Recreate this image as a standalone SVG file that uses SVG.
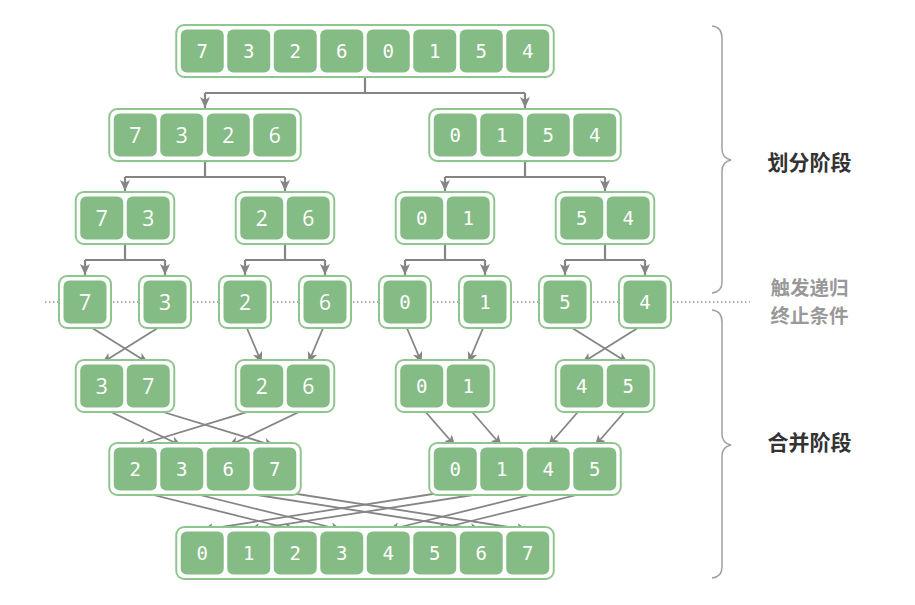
<svg xmlns="http://www.w3.org/2000/svg" width="915" height="605" viewBox="0 0 915 605">
<style>
.box{fill:#fff;stroke:#8ec78e;stroke-width:2}
.c{fill:#85bb85}
.m{font-family:"DejaVu Sans Mono","Liberation Mono",monospace;font-size:19px;fill:#fff;text-anchor:middle;dominant-baseline:central}
.s{font-family:"Open Sans","Liberation Sans",sans-serif;font-size:21px;fill:#fff;text-anchor:middle;dominant-baseline:central}
.ln{fill:none;stroke:#858585;stroke-width:2.2}
.mg{fill:none;stroke:#858585;stroke-width:1.8}
.br{fill:none;stroke:#a0a0a0;stroke-width:1.5}
.lb{font-family:"Noto Sans CJK SC","Noto Sans",sans-serif;font-size:21px;font-weight:bold;text-anchor:middle;dominant-baseline:central}
.gl{font-family:"Noto Sans CJK SC","Noto Sans",sans-serif;font-size:19.5px;font-weight:bold;text-anchor:middle;dominant-baseline:central;fill:#999}
</style>
<defs>
<marker id="ah" markerUnits="userSpaceOnUse" markerWidth="13" markerHeight="11" refX="11" refY="5" orient="auto">
<path d="M0,0 L11,5 L0,10 L2.8,5 z" fill="#858585"/>
</marker>
</defs>
<line x1="45" y1="302" x2="750" y2="302" stroke="#9a9a9a" stroke-width="1.5" stroke-dasharray="1.5 2.5"/>
<g id="connectors">
<path class="ln" d="M365,77 V93 M205,93 H525"/>
<path class="ln" d="M205,93 V108" marker-end="url(#ah)"/>
<path class="ln" d="M525,93 V108" marker-end="url(#ah)"/>
<path class="ln" d="M205,161 V177 M125,177 H285 M525,161 V177 M445,177 H605"/>
<path class="ln" d="M125,177 V191" marker-end="url(#ah)"/>
<path class="ln" d="M285,177 V191" marker-end="url(#ah)"/>
<path class="ln" d="M445,177 V191" marker-end="url(#ah)"/>
<path class="ln" d="M605,177 V191" marker-end="url(#ah)"/>
<path class="ln" d="M125,244 V260 M85,260 H165 M285,244 V260 M245,260 H325 M445,244 V260 M405,260 H485 M605,244 V260 M565,260 H645"/>
<path class="ln" d="M85,260 V275" marker-end="url(#ah)"/>
<path class="ln" d="M165,260 V275" marker-end="url(#ah)"/>
<path class="ln" d="M245,260 V275" marker-end="url(#ah)"/>
<path class="ln" d="M325,260 V275" marker-end="url(#ah)"/>
<path class="ln" d="M405,260 V275" marker-end="url(#ah)"/>
<path class="ln" d="M485,260 V275" marker-end="url(#ah)"/>
<path class="ln" d="M565,260 V275" marker-end="url(#ah)"/>
<path class="ln" d="M645,260 V275" marker-end="url(#ah)"/>
<line class="mg" x1="85" y1="323.5" x2="148.25" y2="363" marker-end="url(#ah)"/>
<line class="mg" x1="165" y1="323.5" x2="101.75" y2="363" marker-end="url(#ah)"/>
<line class="mg" x1="245" y1="323.5" x2="261.75" y2="363" marker-end="url(#ah)"/>
<line class="mg" x1="325" y1="323.5" x2="308.25" y2="363" marker-end="url(#ah)"/>
<line class="mg" x1="405" y1="323.5" x2="421.75" y2="363" marker-end="url(#ah)"/>
<line class="mg" x1="485" y1="323.5" x2="468.25" y2="363" marker-end="url(#ah)"/>
<line class="mg" x1="565" y1="323.5" x2="628.25" y2="363" marker-end="url(#ah)"/>
<line class="mg" x1="645" y1="323.5" x2="581.75" y2="363" marker-end="url(#ah)"/>
<line class="mg" x1="101.75" y1="407.5" x2="181.75" y2="446" marker-end="url(#ah)"/>
<line class="mg" x1="148.25" y1="407.5" x2="274.75" y2="446" marker-end="url(#ah)"/>
<line class="mg" x1="261.75" y1="407.5" x2="135.25" y2="446" marker-end="url(#ah)"/>
<line class="mg" x1="308.25" y1="407.5" x2="228.25" y2="446" marker-end="url(#ah)"/>
<line class="mg" x1="421.75" y1="407.5" x2="455.25" y2="446" marker-end="url(#ah)"/>
<line class="mg" x1="468.25" y1="407.5" x2="501.75" y2="446" marker-end="url(#ah)"/>
<line class="mg" x1="581.75" y1="407.5" x2="548.25" y2="446" marker-end="url(#ah)"/>
<line class="mg" x1="628.25" y1="407.5" x2="594.75" y2="446" marker-end="url(#ah)"/>
<line class="mg" x1="135.25" y1="490.5" x2="295.25" y2="530" marker-end="url(#ah)"/>
<line class="mg" x1="181.75" y1="490.5" x2="341.75" y2="530" marker-end="url(#ah)"/>
<line class="mg" x1="228.25" y1="490.5" x2="481.25" y2="530" marker-end="url(#ah)"/>
<line class="mg" x1="274.75" y1="490.5" x2="527.75" y2="530" marker-end="url(#ah)"/>
<line class="mg" x1="455.25" y1="490.5" x2="202.25" y2="530" marker-end="url(#ah)"/>
<line class="mg" x1="501.75" y1="490.5" x2="248.75" y2="530" marker-end="url(#ah)"/>
<line class="mg" x1="548.25" y1="490.5" x2="388.25" y2="530" marker-end="url(#ah)"/>
<line class="mg" x1="594.75" y1="490.5" x2="434.75" y2="530" marker-end="url(#ah)"/>
</g>
<g id="n-top">
<rect class="box" x="176.25" y="25" width="377.5" height="52" rx="8"/>
<rect class="c" x="180.75" y="29.5" width="43" height="43" rx="6"/><text class="m" x="202.25" y="51">7</text>
<rect class="c" x="227.25" y="29.5" width="43" height="43" rx="6"/><text class="m" x="248.75" y="51">3</text>
<rect class="c" x="273.75" y="29.5" width="43" height="43" rx="6"/><text class="m" x="295.25" y="51">2</text>
<rect class="c" x="320.25" y="29.5" width="43" height="43" rx="6"/><text class="m" x="341.75" y="51">6</text>
<rect class="c" x="366.75" y="29.5" width="43" height="43" rx="6"/><text class="m" x="388.25" y="51">0</text>
<rect class="c" x="413.25" y="29.5" width="43" height="43" rx="6"/><text class="m" x="434.75" y="51">1</text>
<rect class="c" x="459.75" y="29.5" width="43" height="43" rx="6"/><text class="m" x="481.25" y="51">5</text>
<rect class="c" x="506.25" y="29.5" width="43" height="43" rx="6"/><text class="m" x="527.75" y="51">4</text>
</g>
<g id="n-7326">
<rect class="box" x="109.25" y="109" width="191.5" height="52" rx="8"/>
<rect class="c" x="113.75" y="113.5" width="43" height="43" rx="6"/><text class="s" x="135.25" y="135">7</text>
<rect class="c" x="160.25" y="113.5" width="43" height="43" rx="6"/><text class="s" x="181.75" y="135">3</text>
<rect class="c" x="206.75" y="113.5" width="43" height="43" rx="6"/><text class="s" x="228.25" y="135">2</text>
<rect class="c" x="253.25" y="113.5" width="43" height="43" rx="6"/><text class="s" x="274.75" y="135">6</text>
</g>
<g id="n-0154">
<rect class="box" x="429.25" y="109" width="191.5" height="52" rx="8"/>
<rect class="c" x="433.75" y="113.5" width="43" height="43" rx="6"/><text class="m" x="455.25" y="135">0</text>
<rect class="c" x="480.25" y="113.5" width="43" height="43" rx="6"/><text class="m" x="501.75" y="135">1</text>
<rect class="c" x="526.75" y="113.5" width="43" height="43" rx="6"/><text class="m" x="548.25" y="135">5</text>
<rect class="c" x="573.25" y="113.5" width="43" height="43" rx="6"/><text class="m" x="594.75" y="135">4</text>
</g>
<g id="n-73">
<rect class="box" x="75.75" y="192" width="98.5" height="52" rx="8"/>
<rect class="c" x="80.25" y="196.5" width="43" height="43" rx="6"/><text class="s" x="101.75" y="218">7</text>
<rect class="c" x="126.75" y="196.5" width="43" height="43" rx="6"/><text class="s" x="148.25" y="218">3</text>
</g>
<g id="n-26">
<rect class="box" x="235.75" y="192" width="98.5" height="52" rx="8"/>
<rect class="c" x="240.25" y="196.5" width="43" height="43" rx="6"/><text class="s" x="261.75" y="218">2</text>
<rect class="c" x="286.75" y="196.5" width="43" height="43" rx="6"/><text class="s" x="308.25" y="218">6</text>
</g>
<g id="n-01">
<rect class="box" x="395.75" y="192" width="98.5" height="52" rx="8"/>
<rect class="c" x="400.25" y="196.5" width="43" height="43" rx="6"/><text class="m" x="421.75" y="218">0</text>
<rect class="c" x="446.75" y="196.5" width="43" height="43" rx="6"/><text class="m" x="468.25" y="218">1</text>
</g>
<g id="n-54">
<rect class="box" x="555.75" y="192" width="98.5" height="52" rx="8"/>
<rect class="c" x="560.25" y="196.5" width="43" height="43" rx="6"/><text class="m" x="581.75" y="218">5</text>
<rect class="c" x="606.75" y="196.5" width="43" height="43" rx="6"/><text class="m" x="628.25" y="218">4</text>
</g>
<g id="leaf-7"><rect class="box" x="59" y="276" width="52" height="52" rx="8"/><rect class="c" x="63.5" y="280.5" width="43" height="43" rx="6"/><text class="s" x="85" y="302">7</text></g>
<g id="leaf-3"><rect class="box" x="139" y="276" width="52" height="52" rx="8"/><rect class="c" x="143.5" y="280.5" width="43" height="43" rx="6"/><text class="s" x="165" y="302">3</text></g>
<g id="leaf-2"><rect class="box" x="219" y="276" width="52" height="52" rx="8"/><rect class="c" x="223.5" y="280.5" width="43" height="43" rx="6"/><text class="s" x="245" y="302">2</text></g>
<g id="leaf-6"><rect class="box" x="299" y="276" width="52" height="52" rx="8"/><rect class="c" x="303.5" y="280.5" width="43" height="43" rx="6"/><text class="s" x="325" y="302">6</text></g>
<g id="leaf-0"><rect class="box" x="379" y="276" width="52" height="52" rx="8"/><rect class="c" x="383.5" y="280.5" width="43" height="43" rx="6"/><text class="m" x="405" y="302">0</text></g>
<g id="leaf-1"><rect class="box" x="459" y="276" width="52" height="52" rx="8"/><rect class="c" x="463.5" y="280.5" width="43" height="43" rx="6"/><text class="m" x="485" y="302">1</text></g>
<g id="leaf-5"><rect class="box" x="539" y="276" width="52" height="52" rx="8"/><rect class="c" x="543.5" y="280.5" width="43" height="43" rx="6"/><text class="m" x="565" y="302">5</text></g>
<g id="leaf-4"><rect class="box" x="619" y="276" width="52" height="52" rx="8"/><rect class="c" x="623.5" y="280.5" width="43" height="43" rx="6"/><text class="m" x="645" y="302">4</text></g>
<g id="n-37">
<rect class="box" x="75.75" y="360" width="98.5" height="52" rx="8"/>
<rect class="c" x="80.25" y="364.5" width="43" height="43" rx="6"/><text class="s" x="101.75" y="386">3</text>
<rect class="c" x="126.75" y="364.5" width="43" height="43" rx="6"/><text class="s" x="148.25" y="386">7</text>
</g>
<g id="n-26m">
<rect class="box" x="235.75" y="360" width="98.5" height="52" rx="8"/>
<rect class="c" x="240.25" y="364.5" width="43" height="43" rx="6"/><text class="s" x="261.75" y="386">2</text>
<rect class="c" x="286.75" y="364.5" width="43" height="43" rx="6"/><text class="s" x="308.25" y="386">6</text>
</g>
<g id="n-01m">
<rect class="box" x="395.75" y="360" width="98.5" height="52" rx="8"/>
<rect class="c" x="400.25" y="364.5" width="43" height="43" rx="6"/><text class="m" x="421.75" y="386">0</text>
<rect class="c" x="446.75" y="364.5" width="43" height="43" rx="6"/><text class="m" x="468.25" y="386">1</text>
</g>
<g id="n-45">
<rect class="box" x="555.75" y="360" width="98.5" height="52" rx="8"/>
<rect class="c" x="560.25" y="364.5" width="43" height="43" rx="6"/><text class="m" x="581.75" y="386">4</text>
<rect class="c" x="606.75" y="364.5" width="43" height="43" rx="6"/><text class="m" x="628.25" y="386">5</text>
</g>
<g id="n-2367">
<rect class="box" x="109.25" y="443" width="191.5" height="52" rx="8"/>
<rect class="c" x="113.75" y="447.5" width="43" height="43" rx="6"/><text class="m" x="135.25" y="469">2</text>
<rect class="c" x="160.25" y="447.5" width="43" height="43" rx="6"/><text class="m" x="181.75" y="469">3</text>
<rect class="c" x="206.75" y="447.5" width="43" height="43" rx="6"/><text class="m" x="228.25" y="469">6</text>
<rect class="c" x="253.25" y="447.5" width="43" height="43" rx="6"/><text class="m" x="274.75" y="469">7</text>
</g>
<g id="n-0145">
<rect class="box" x="429.25" y="443" width="191.5" height="52" rx="8"/>
<rect class="c" x="433.75" y="447.5" width="43" height="43" rx="6"/><text class="m" x="455.25" y="469">0</text>
<rect class="c" x="480.25" y="447.5" width="43" height="43" rx="6"/><text class="m" x="501.75" y="469">1</text>
<rect class="c" x="526.75" y="447.5" width="43" height="43" rx="6"/><text class="m" x="548.25" y="469">4</text>
<rect class="c" x="573.25" y="447.5" width="43" height="43" rx="6"/><text class="m" x="594.75" y="469">5</text>
</g>
<g id="n-sorted">
<rect class="box" x="176.25" y="527" width="377.5" height="52" rx="8"/>
<rect class="c" x="180.75" y="531.5" width="43" height="43" rx="6"/><text class="m" x="202.25" y="553">0</text>
<rect class="c" x="227.25" y="531.5" width="43" height="43" rx="6"/><text class="m" x="248.75" y="553">1</text>
<rect class="c" x="273.75" y="531.5" width="43" height="43" rx="6"/><text class="m" x="295.25" y="553">2</text>
<rect class="c" x="320.25" y="531.5" width="43" height="43" rx="6"/><text class="m" x="341.75" y="553">3</text>
<rect class="c" x="366.75" y="531.5" width="43" height="43" rx="6"/><text class="m" x="388.25" y="553">4</text>
<rect class="c" x="413.25" y="531.5" width="43" height="43" rx="6"/><text class="m" x="434.75" y="553">5</text>
<rect class="c" x="459.75" y="531.5" width="43" height="43" rx="6"/><text class="m" x="481.25" y="553">6</text>
<rect class="c" x="506.25" y="531.5" width="43" height="43" rx="6"/><text class="m" x="527.75" y="553">7</text>
</g>
<g id="brace-split">
<path class="br" d="M712,26 Q722,27 722,38 V149 Q722,158 731,160 Q722,162 722,171 V282 Q722,292 712,293"/>
<text class="lb" x="809.5" y="161" fill="#333">划分阶段</text>
</g>
<g id="label-base">
<text class="gl" x="809.5" y="286">触发递归</text>
<text class="gl" x="809.5" y="314.5">终止条件</text>
</g>
<g id="brace-merge">
<path class="br" d="M712,310 Q722,311 722,322 V434 Q722,443 731,445 Q722,447 722,456 V567 Q722,577 712,578"/>
<text class="lb" x="809.5" y="441" fill="#333">合并阶段</text>
</g>
</svg>
